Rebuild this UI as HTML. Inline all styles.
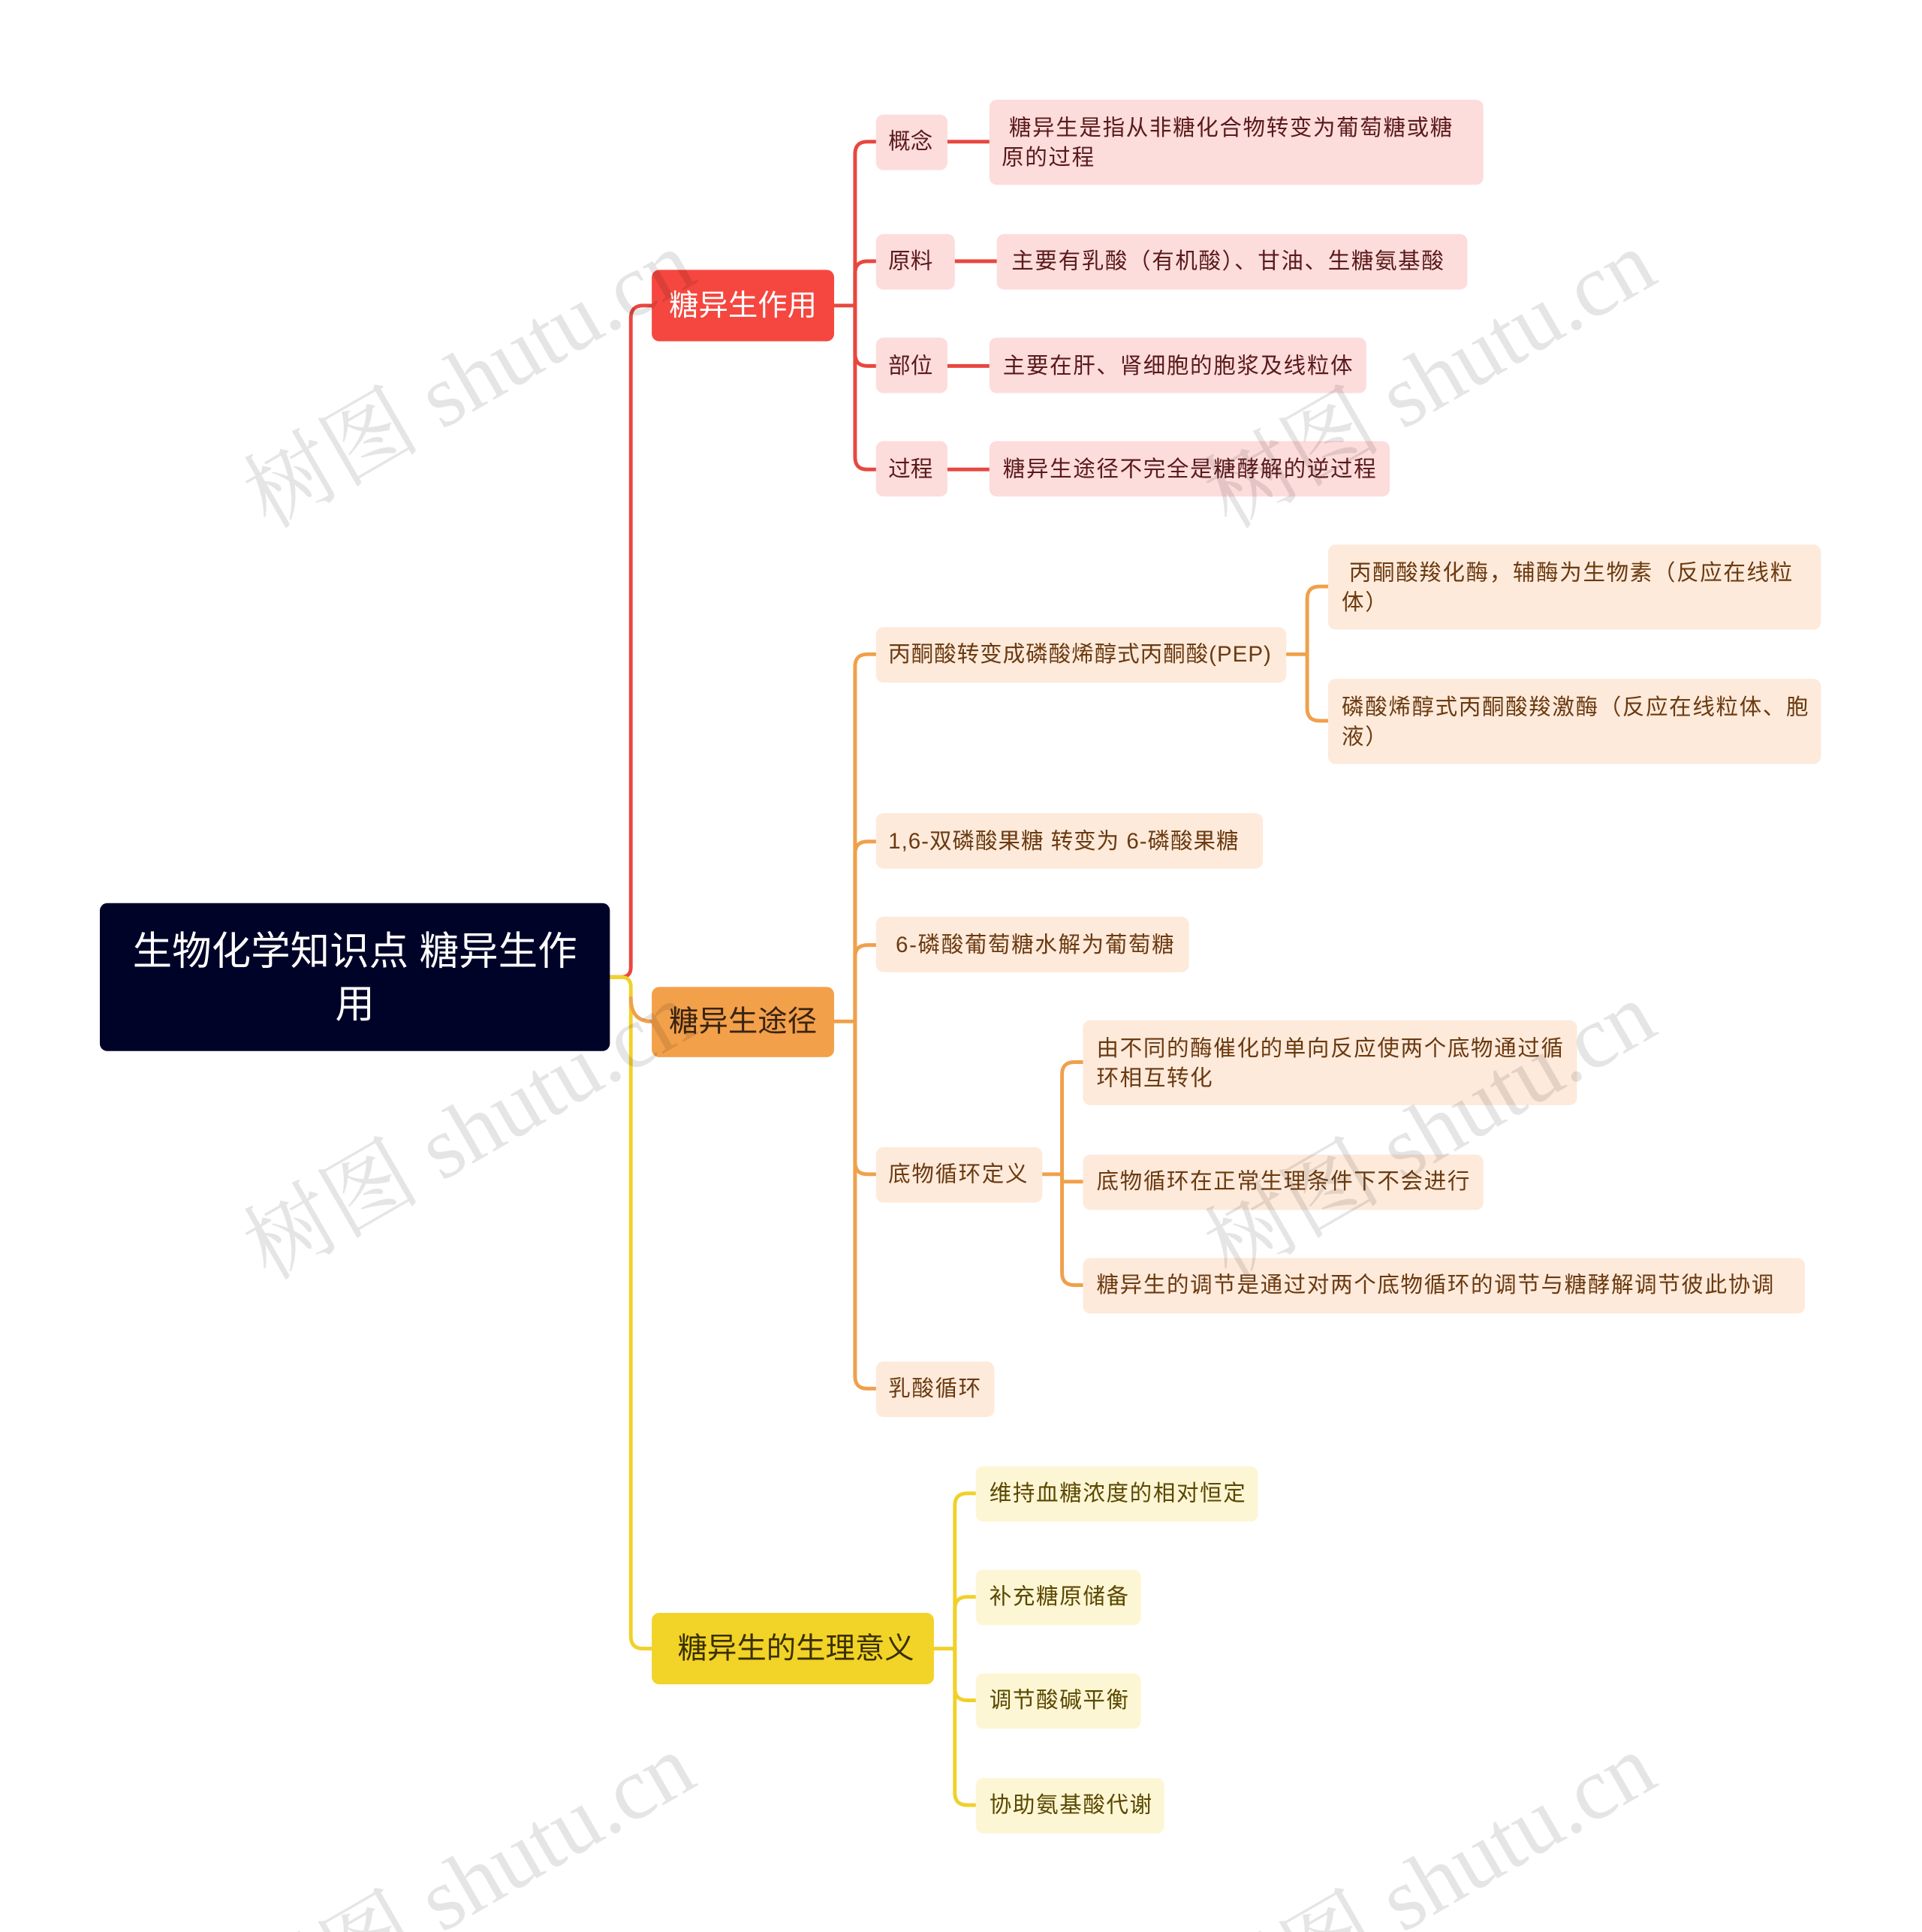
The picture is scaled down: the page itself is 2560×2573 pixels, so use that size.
<!DOCTYPE html>
<html><head><meta charset="utf-8">
<style>
html,body{margin:0;padding:0;background:#fff;overflow:hidden;width:2560px;height:2573px;}
svg{display:block;}
text{font-family:"Liberation Sans","Noto Sans CJK SC",sans-serif;}
</style></head>
<body>
<svg width="2560" height="2573" viewBox="0 0 1560 1568" xmlns="http://www.w3.org/2000/svg" overflow="hidden">
<rect width="1560" height="1568" fill="#fff"/>
<g fill="none" stroke-width="3" stroke-linecap="round">
<path d="M495,793 H504 Q512,793 512,785 V258 Q512,248 522,248 H529" stroke="#e8473f"/>
<path d="M495,793 H504 Q512,793 512,801 V1328 Q512,1338 522,1338 H529" stroke="#f0d12a"/>
<path d="M512,810 Q512,829 529,829" stroke="#f0a04b"/>
<g stroke="#e8473f">
<path d="M677,248 H694 V125 Q694,115 704,115 H711"/>
<path d="M694,248 V222 Q694,212 704,212 H711"/>
<path d="M694,248 V287 Q694,297 704,297 H711"/>
<path d="M694,248 V371 Q694,381 704,381 H711"/>
<path d="M769,115 H803"/><path d="M775,212 H809"/><path d="M769,297 H803"/><path d="M769,381 H803"/>
</g>
<g stroke="#f0a04b">
<path d="M677,829 H694 V541 Q694,531 704,531 H711"/>
<path d="M694,829 V693 Q694,683 704,683 H711"/>
<path d="M694,829 V777 Q694,767 704,767 H711"/>
<path d="M694,829 V943 Q694,953 704,953 H711"/>
<path d="M694,829 V1117 Q694,1127 704,1127 H711"/>
<path d="M1044,531 H1061 V486 Q1061,476 1071,476 H1078"/>
<path d="M1061,531 V575 Q1061,585 1071,585 H1078"/>
<path d="M846,953 H862 V872 Q862,862 872,862 H879"/>
<path d="M862,953 V959 H879"/>
<path d="M862,953 V1033 Q862,1043 872,1043 H879"/>
</g>
<g stroke="#f0d12a">
<path d="M758,1338 H775 V1222 Q775,1212 785,1212 H792"/>
<path d="M775,1338 V1306 Q775,1296 785,1296 H792"/>
<path d="M775,1338 V1370 Q775,1380 785,1380 H792"/>
<path d="M775,1338 V1455 Q775,1465 785,1465 H792"/>
</g>
</g>

<rect x="81" y="733" width="414" height="120" rx="6" fill="#000328"/>
<text x="288" y="772" font-size="32" fill="#fff" text-anchor="middle" dominant-baseline="central">生物化学知识点 糖异生作</text>
<text x="288" y="815" font-size="32" fill="#fff" text-anchor="middle" dominant-baseline="central">用</text>

<rect x="529" y="219" width="148" height="58" rx="6" fill="#f5473f"/>
<text x="603" y="248" font-size="24" fill="#fff" text-anchor="middle" dominant-baseline="central">糖异生作用</text>
<rect x="529" y="801" width="148" height="57" rx="6" fill="#f3a04b"/>
<text x="603" y="829" font-size="24" fill="#3a2410" text-anchor="middle" dominant-baseline="central">糖异生途径</text>
<rect x="529" y="1309" width="229" height="58" rx="6" fill="#f2d327"/>
<text x="646" y="1338" font-size="24" fill="#3a3000" text-anchor="middle" dominant-baseline="central">糖异生的生理意义</text>

<g font-size="18" fill="#5a1a1a" dominant-baseline="central" letter-spacing="1">
<rect x="711" y="93" width="58" height="45" rx="6" fill="#fddcdc"/><text x="721" y="115" letter-spacing="0">概念</text>
<rect x="711" y="190" width="64" height="45" rx="6" fill="#fddcdc"/><text x="721" y="212" letter-spacing="0">原料</text>
<rect x="711" y="274" width="58" height="45" rx="6" fill="#fddcdc"/><text x="721" y="297" letter-spacing="0">部位</text>
<rect x="711" y="358" width="58" height="45" rx="6" fill="#fddcdc"/><text x="721" y="381" letter-spacing="0">过程</text>
<rect x="803" y="81" width="401" height="69" rx="6" fill="#fddcdc"/><text x="819" y="104">糖异生是指从非糖化合物转变为葡萄糖或糖</text><text x="813" y="128">原的过程</text>
<rect x="809" y="190" width="382" height="45" rx="6" fill="#fddcdc"/><text x="821" y="212">主要有乳酸（有机酸）、甘油、生糖氨基酸</text>
<rect x="803" y="274" width="306" height="45" rx="6" fill="#fddcdc"/><text x="814" y="297">主要在肝、肾细胞的胞浆及线粒体</text>
<rect x="803" y="358" width="325" height="45" rx="6" fill="#fddcdc"/><text x="814" y="381">糖异生途径不完全是糖酵解的逆过程</text>
</g>

<g font-size="18" fill="#6b3a10" dominant-baseline="central" letter-spacing="1">
<rect x="711" y="509" width="333" height="45" rx="6" fill="#fdeadb"/><text x="721" y="531" letter-spacing="0.6">丙酮酸转变成磷酸烯醇式丙酮酸(PEP)</text>
<rect x="711" y="660" width="314" height="45" rx="6" fill="#fdeadb"/><text x="721" y="683" letter-spacing="0.6">1,6-双磷酸果糖 转变为 6-磷酸果糖</text>
<rect x="711" y="744" width="254" height="45" rx="6" fill="#fdeadb"/><text x="727" y="767">6-磷酸葡萄糖水解为葡萄糖</text>
<rect x="711" y="931" width="135" height="45" rx="6" fill="#fdeadb"/><text x="721" y="953">底物循环定义</text>
<rect x="711" y="1105" width="96" height="45" rx="6" fill="#fdeadb"/><text x="721" y="1127">乳酸循环</text>
<rect x="1078" y="442" width="400" height="69" rx="6" fill="#fdeadb"/><text x="1095" y="465">丙酮酸羧化酶，辅酶为生物素（反应在线粒</text><text x="1089" y="489">体）</text>
<rect x="1078" y="551" width="400" height="69" rx="6" fill="#fdeadb"/><text x="1089" y="574">磷酸烯醇式丙酮酸羧激酶（反应在线粒体、胞</text><text x="1089" y="598">液）</text>
<rect x="879" y="828" width="401" height="69" rx="6" fill="#fdeadb"/><text x="890" y="851">由不同的酶催化的单向反应使两个底物通过循</text><text x="890" y="875">环相互转化</text>
<rect x="879" y="937" width="325" height="45" rx="6" fill="#fdeadb"/><text x="890" y="959">底物循环在正常生理条件下不会进行</text>
<rect x="879" y="1021" width="586" height="45" rx="6" fill="#fdeadb"/><text x="890" y="1043">糖异生的调节是通过对两个底物循环的调节与糖酵解调节彼此协调</text>
</g>

<g font-size="18" fill="#5a4800" dominant-baseline="central" letter-spacing="1">
<rect x="792" y="1190" width="229" height="45" rx="6" fill="#fdf6d4"/><text x="803" y="1212">维持血糖浓度的相对恒定</text>
<rect x="792" y="1274" width="134" height="45" rx="6" fill="#fdf6d4"/><text x="803" y="1296">补充糖原储备</text>
<rect x="792" y="1358" width="134" height="45" rx="6" fill="#fdf6d4"/><text x="803" y="1380">调节酸碱平衡</text>
<rect x="792" y="1443" width="153" height="45" rx="6" fill="#fdf6d4"/><text x="803" y="1465">协助氨基酸代谢</text>
</g>

<g font-size="72" fill="#000" fill-opacity="0.1">
<text transform="translate(218,430) rotate(-30)" style="font-family:'Liberation Serif','Noto Serif CJK SC',serif">树图 shutu.cn</text>
<text transform="translate(998,430) rotate(-30)" style="font-family:'Liberation Serif','Noto Serif CJK SC',serif">树图 shutu.cn</text>
<text transform="translate(218,1040) rotate(-30)" style="font-family:'Liberation Serif','Noto Serif CJK SC',serif">树图 shutu.cn</text>
<text transform="translate(998,1040) rotate(-30)" style="font-family:'Liberation Serif','Noto Serif CJK SC',serif">树图 shutu.cn</text>
<text transform="translate(218,1650) rotate(-30)" style="font-family:'Liberation Serif','Noto Serif CJK SC',serif">树图 shutu.cn</text>
<text transform="translate(998,1650) rotate(-30)" style="font-family:'Liberation Serif','Noto Serif CJK SC',serif">树图 shutu.cn</text>
</g>
</svg>
</body></html>
